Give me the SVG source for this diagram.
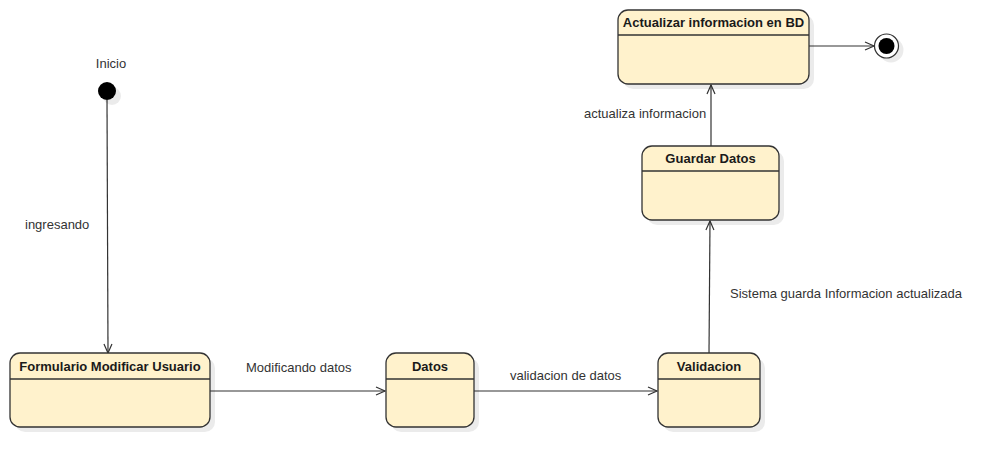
<svg xmlns="http://www.w3.org/2000/svg" width="1000" height="468" viewBox="0 0 1000 468">
<style>
.box{fill:#fff2cc;stroke:#333;stroke-width:1.3}
.sh{fill:#000;opacity:0.08}
.sep{stroke:#333;stroke-width:1.3}
.t{font-family:"Liberation Sans",Arial,sans-serif;font-size:13px;font-weight:bold;fill:#1a1a1a;text-anchor:middle}
.l{font-family:"Liberation Sans",Arial,sans-serif;font-size:13px;fill:#333}
.c{stroke:#333;stroke-width:1.2;fill:none;marker-end:url(#a)}
</style>
<defs>
<marker id="a" markerWidth="12" markerHeight="12" refX="10" refY="5" orient="auto" markerUnits="userSpaceOnUse">
<path d="M1,1 L10,5 L1,9" fill="none" stroke="#333" stroke-width="1.2"/>
</marker>
</defs>
<rect width="1000" height="468" fill="#fff"/>
<g id="connectors">
<line class="c" x1="107" y1="100" x2="108" y2="353"/>
<text class="l" x="25" y="229">ingresando</text>
<line class="c" x1="210" y1="391" x2="385" y2="391"/>
<text class="l" x="246" y="372">Modificando datos</text>
<line class="c" x1="474" y1="391" x2="657" y2="391"/>
<text class="l" x="510" y="380">validacion de datos</text>
<line class="c" x1="709" y1="354" x2="710" y2="221"/>
<text class="l" x="730" y="298">Sistema guarda Informacion actualizada</text>
<line class="c" x1="711" y1="146" x2="711" y2="85"/>
<text class="l" x="584" y="118">actualiza informacion</text>
<line class="c" x1="808" y1="46" x2="874" y2="46"/>
</g>
<g id="inicio">
<circle class="sh" cx="112" cy="96" r="9"/>
<circle cx="107" cy="91" r="9" fill="#000"/>
<text class="l" x="111" y="68" text-anchor="middle">Inicio</text>
</g>
<g id="fin">
<circle class="sh" cx="891" cy="50" r="12.5"/>
<circle cx="886.5" cy="46" r="12" fill="#fff" stroke="#333" stroke-width="1.2"/>
<circle cx="886.5" cy="46" r="8" fill="#000"/>
</g>
<g id="formulario">
<rect class="sh" x="15" y="358" width="200" height="74" rx="10"/>
<rect class="box" x="10" y="353" width="200" height="74" rx="10"/>
<line class="sep" x1="10" y1="379" x2="210" y2="379"/>
<text class="t" x="110" y="371">Formulario Modificar Usuario</text>
</g>
<g id="datos">
<rect class="sh" x="391" y="358" width="88" height="74" rx="10"/>
<rect class="box" x="386" y="353" width="88" height="74" rx="10"/>
<line class="sep" x1="386" y1="379" x2="474" y2="379"/>
<text class="t" x="430" y="371">Datos</text>
</g>
<g id="validacion">
<rect class="sh" x="663" y="358" width="102" height="74" rx="10"/>
<rect class="box" x="658" y="353" width="102" height="74" rx="10"/>
<line class="sep" x1="658" y1="379" x2="760" y2="379"/>
<text class="t" x="709" y="371">Validacion</text>
</g>
<g id="guardar">
<rect class="sh" x="647" y="151" width="137" height="74" rx="10"/>
<rect class="box" x="642" y="146" width="137" height="74" rx="10"/>
<line class="sep" x1="642" y1="171" x2="779" y2="171"/>
<text class="t" x="710.5" y="163">Guardar Datos</text>
</g>
<g id="actualizar">
<rect class="sh" x="623" y="15" width="191" height="74" rx="10"/>
<rect class="box" x="618" y="10" width="191" height="74" rx="10"/>
<line class="sep" x1="618" y1="35" x2="809" y2="35"/>
<text class="t" x="713.5" y="27">Actualizar informacion en BD</text>
</g>
</svg>
